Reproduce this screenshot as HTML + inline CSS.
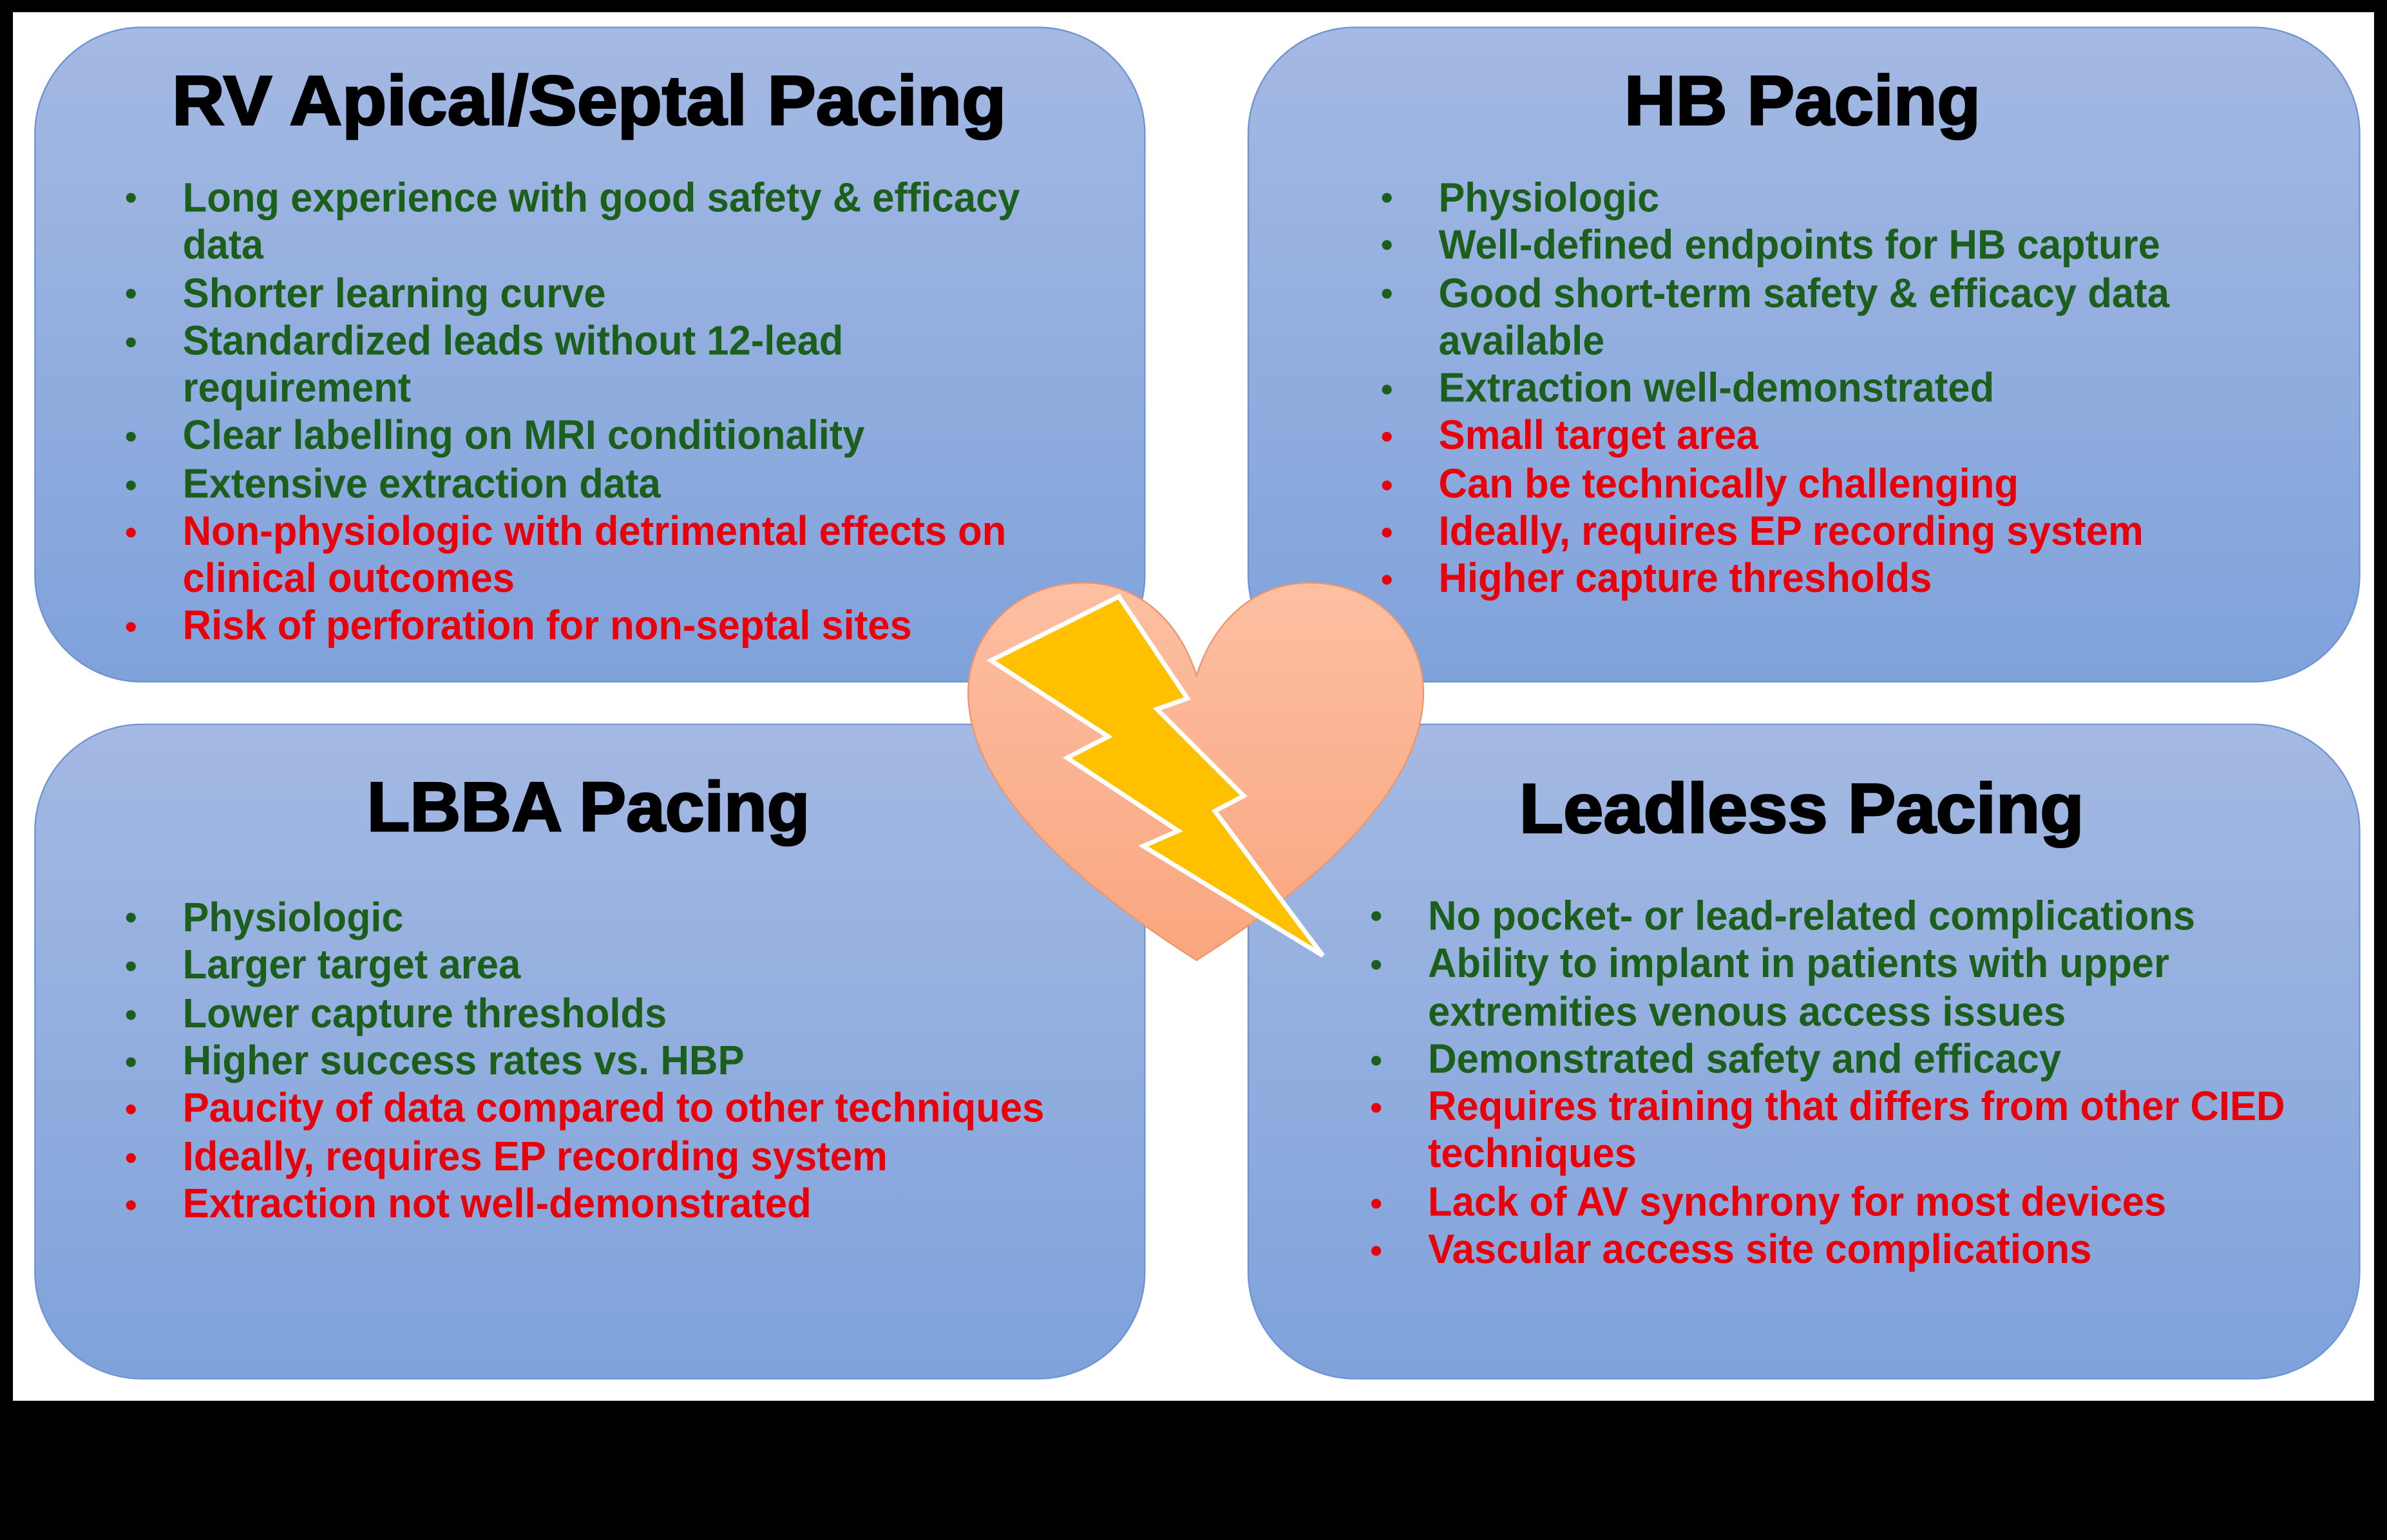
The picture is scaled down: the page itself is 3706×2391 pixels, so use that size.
<!DOCTYPE html>
<html><head><meta charset="utf-8"><style>
html,body{margin:0;padding:0;background:#000;}
svg{display:block;}
text{font-family:"Liberation Sans",Arial,sans-serif;font-weight:bold;}
.t{font-size:46px;fill:#000;stroke:#000;stroke-width:1.2;}
.g{font-size:27px;fill:#1c5e1c;}
.r{font-size:27px;fill:#e8000a;}
</style></head><body>
<svg width="3706" height="2391" viewBox="0 0 1568 1012" preserveAspectRatio="none" xmlns="http://www.w3.org/2000/svg">
<defs>
<linearGradient id="bx" x1="0" y1="0" x2="0" y2="1"><stop offset="0" stop-color="#a4b9e3"/><stop offset="1" stop-color="#7fa2db"/></linearGradient>
<linearGradient id="ht" x1="0" y1="0" x2="0" y2="1"><stop offset="0" stop-color="#fdbfa2"/><stop offset="1" stop-color="#f9a67f"/></linearGradient>
</defs>
<rect x="0" y="0" width="1568" height="1012" fill="#000"/>
<rect x="8.5" y="8" width="1551" height="912.5" fill="#fff"/>
<rect x="23" y="18" width="729" height="430" rx="70" fill="url(#bx)" stroke="#6f94d4" stroke-width="1"/>
<rect x="820" y="18" width="730" height="430" rx="70" fill="url(#bx)" stroke="#6f94d4" stroke-width="1"/>
<rect x="23" y="476" width="729" height="430" rx="70" fill="url(#bx)" stroke="#6f94d4" stroke-width="1"/>
<rect x="820" y="476" width="730" height="430" rx="70" fill="url(#bx)" stroke="#6f94d4" stroke-width="1"/>

<text class="t" x="113" y="82" textLength="548" lengthAdjust="spacingAndGlyphs">RV Apical/Septal Pacing</text>
<text class="t" x="1067" y="82" textLength="234" lengthAdjust="spacingAndGlyphs">HB Pacing</text>
<text class="t" x="241" y="546" textLength="291" lengthAdjust="spacingAndGlyphs">LBBA Pacing</text>
<text class="t" x="998" y="547" textLength="371" lengthAdjust="spacingAndGlyphs">Leadless Pacing</text>

<g fill="#1c5e1c">
<circle cx="86" cy="130" r="3.2"/><circle cx="86" cy="193" r="3.2"/><circle cx="86" cy="225" r="3.2"/><circle cx="86" cy="287" r="3.2"/><circle cx="86" cy="319" r="3.2"/>
<circle cx="911" cy="130" r="3.2"/><circle cx="911" cy="161" r="3.2"/><circle cx="911" cy="193" r="3.2"/><circle cx="911" cy="256" r="3.2"/>
<circle cx="86" cy="603" r="3.2"/><circle cx="86" cy="635" r="3.2"/><circle cx="86" cy="667" r="3.2"/><circle cx="86" cy="698" r="3.2"/>
<circle cx="904" cy="602" r="3.2"/><circle cx="904" cy="634" r="3.2"/><circle cx="904" cy="697" r="3.2"/>
</g>
<g fill="#e8000a">
<circle cx="86" cy="350" r="3.2"/><circle cx="86" cy="412" r="3.2"/>
<circle cx="911" cy="287" r="3.2"/><circle cx="911" cy="319" r="3.2"/><circle cx="911" cy="350" r="3.2"/><circle cx="911" cy="381" r="3.2"/>
<circle cx="86" cy="729" r="3.2"/><circle cx="86" cy="761" r="3.2"/><circle cx="86" cy="792" r="3.2"/>
<circle cx="904" cy="728" r="3.2"/><circle cx="904" cy="791" r="3.2"/><circle cx="904" cy="822" r="3.2"/>
</g>

<text class="g" x="120" y="139" textLength="550" lengthAdjust="spacingAndGlyphs">Long experience with good safety &amp; efficacy</text>
<text class="g" x="120" y="170" textLength="53" lengthAdjust="spacingAndGlyphs">data</text>
<text class="g" x="120" y="202" textLength="278" lengthAdjust="spacingAndGlyphs">Shorter learning curve</text>
<text class="g" x="120" y="233" textLength="434" lengthAdjust="spacingAndGlyphs">Standardized leads without 12-lead</text>
<text class="g" x="120" y="264" textLength="150" lengthAdjust="spacingAndGlyphs">requirement</text>
<text class="g" x="120" y="295" textLength="448" lengthAdjust="spacingAndGlyphs">Clear labelling on MRI conditionality</text>
<text class="g" x="120" y="327" textLength="314" lengthAdjust="spacingAndGlyphs">Extensive extraction data</text>
<text class="r" x="120" y="358" textLength="541" lengthAdjust="spacingAndGlyphs">Non-physiologic with detrimental effects on</text>
<text class="r" x="120" y="389" textLength="218" lengthAdjust="spacingAndGlyphs">clinical outcomes</text>
<text class="r" x="120" y="420" textLength="479" lengthAdjust="spacingAndGlyphs">Risk of perforation for non-septal sites</text>

<text class="g" x="945" y="139" textLength="145" lengthAdjust="spacingAndGlyphs">Physiologic</text>
<text class="g" x="945" y="170" textLength="474" lengthAdjust="spacingAndGlyphs">Well-defined endpoints for HB capture</text>
<text class="g" x="945" y="202" textLength="480" lengthAdjust="spacingAndGlyphs">Good short-term safety &amp; efficacy data</text>
<text class="g" x="945" y="233" textLength="109" lengthAdjust="spacingAndGlyphs">available</text>
<text class="g" x="945" y="264" textLength="365" lengthAdjust="spacingAndGlyphs">Extraction well-demonstrated</text>
<text class="r" x="945" y="295" textLength="210" lengthAdjust="spacingAndGlyphs">Small target area</text>
<text class="r" x="945" y="327" textLength="381" lengthAdjust="spacingAndGlyphs">Can be technically challenging</text>
<text class="r" x="945" y="358" textLength="463" lengthAdjust="spacingAndGlyphs">Ideally, requires EP recording system</text>
<text class="r" x="945" y="389" textLength="324" lengthAdjust="spacingAndGlyphs">Higher capture thresholds</text>

<text class="g" x="120" y="612" textLength="145" lengthAdjust="spacingAndGlyphs">Physiologic</text>
<text class="g" x="120" y="643" textLength="222" lengthAdjust="spacingAndGlyphs">Larger target area</text>
<text class="g" x="120" y="675" textLength="318" lengthAdjust="spacingAndGlyphs">Lower capture thresholds</text>
<text class="g" x="120" y="706" textLength="369" lengthAdjust="spacingAndGlyphs">Higher success rates vs. HBP</text>
<text class="r" x="120" y="737" textLength="566" lengthAdjust="spacingAndGlyphs">Paucity of data compared to other techniques</text>
<text class="r" x="120" y="769" textLength="463" lengthAdjust="spacingAndGlyphs">Ideally, requires EP recording system</text>
<text class="r" x="120" y="800" textLength="413" lengthAdjust="spacingAndGlyphs">Extraction not well-demonstrated</text>

<text class="g" x="938" y="611" textLength="504" lengthAdjust="spacingAndGlyphs">No pocket- or lead-related complications</text>
<text class="g" x="938" y="642" textLength="487" lengthAdjust="spacingAndGlyphs">Ability to implant in patients with upper</text>
<text class="g" x="938" y="674" textLength="419" lengthAdjust="spacingAndGlyphs">extremities venous access issues</text>
<text class="g" x="938" y="705" textLength="416" lengthAdjust="spacingAndGlyphs">Demonstrated safety and efficacy</text>
<text class="r" x="938" y="736" textLength="563" lengthAdjust="spacingAndGlyphs">Requires training that differs from other CIED</text>
<text class="r" x="938" y="767" textLength="137" lengthAdjust="spacingAndGlyphs">techniques</text>
<text class="r" x="938" y="799" textLength="485" lengthAdjust="spacingAndGlyphs">Lack of AV synchrony for most devices</text>
<text class="r" x="938" y="830" textLength="436" lengthAdjust="spacingAndGlyphs">Vascular access site complications</text>

<path d="M786,444 C774,406 746,383 712,383 C666,383 636,418 636,455 C636,510 690,570 786,631 C882,570 935,510 935,455 C935,418 906,383 860,383 C826,383 798,406 786,444 Z" fill="url(#ht)" stroke="#f0956a" stroke-width="1"/>
<polygon points="735,392 651,434 728,484 701,498 774,546 751,556 869,628 798,533 817,523 760,466 780,459" fill="#ffc000" stroke="#fff" stroke-width="3" stroke-linejoin="miter"/>
</svg>
</body></html>
